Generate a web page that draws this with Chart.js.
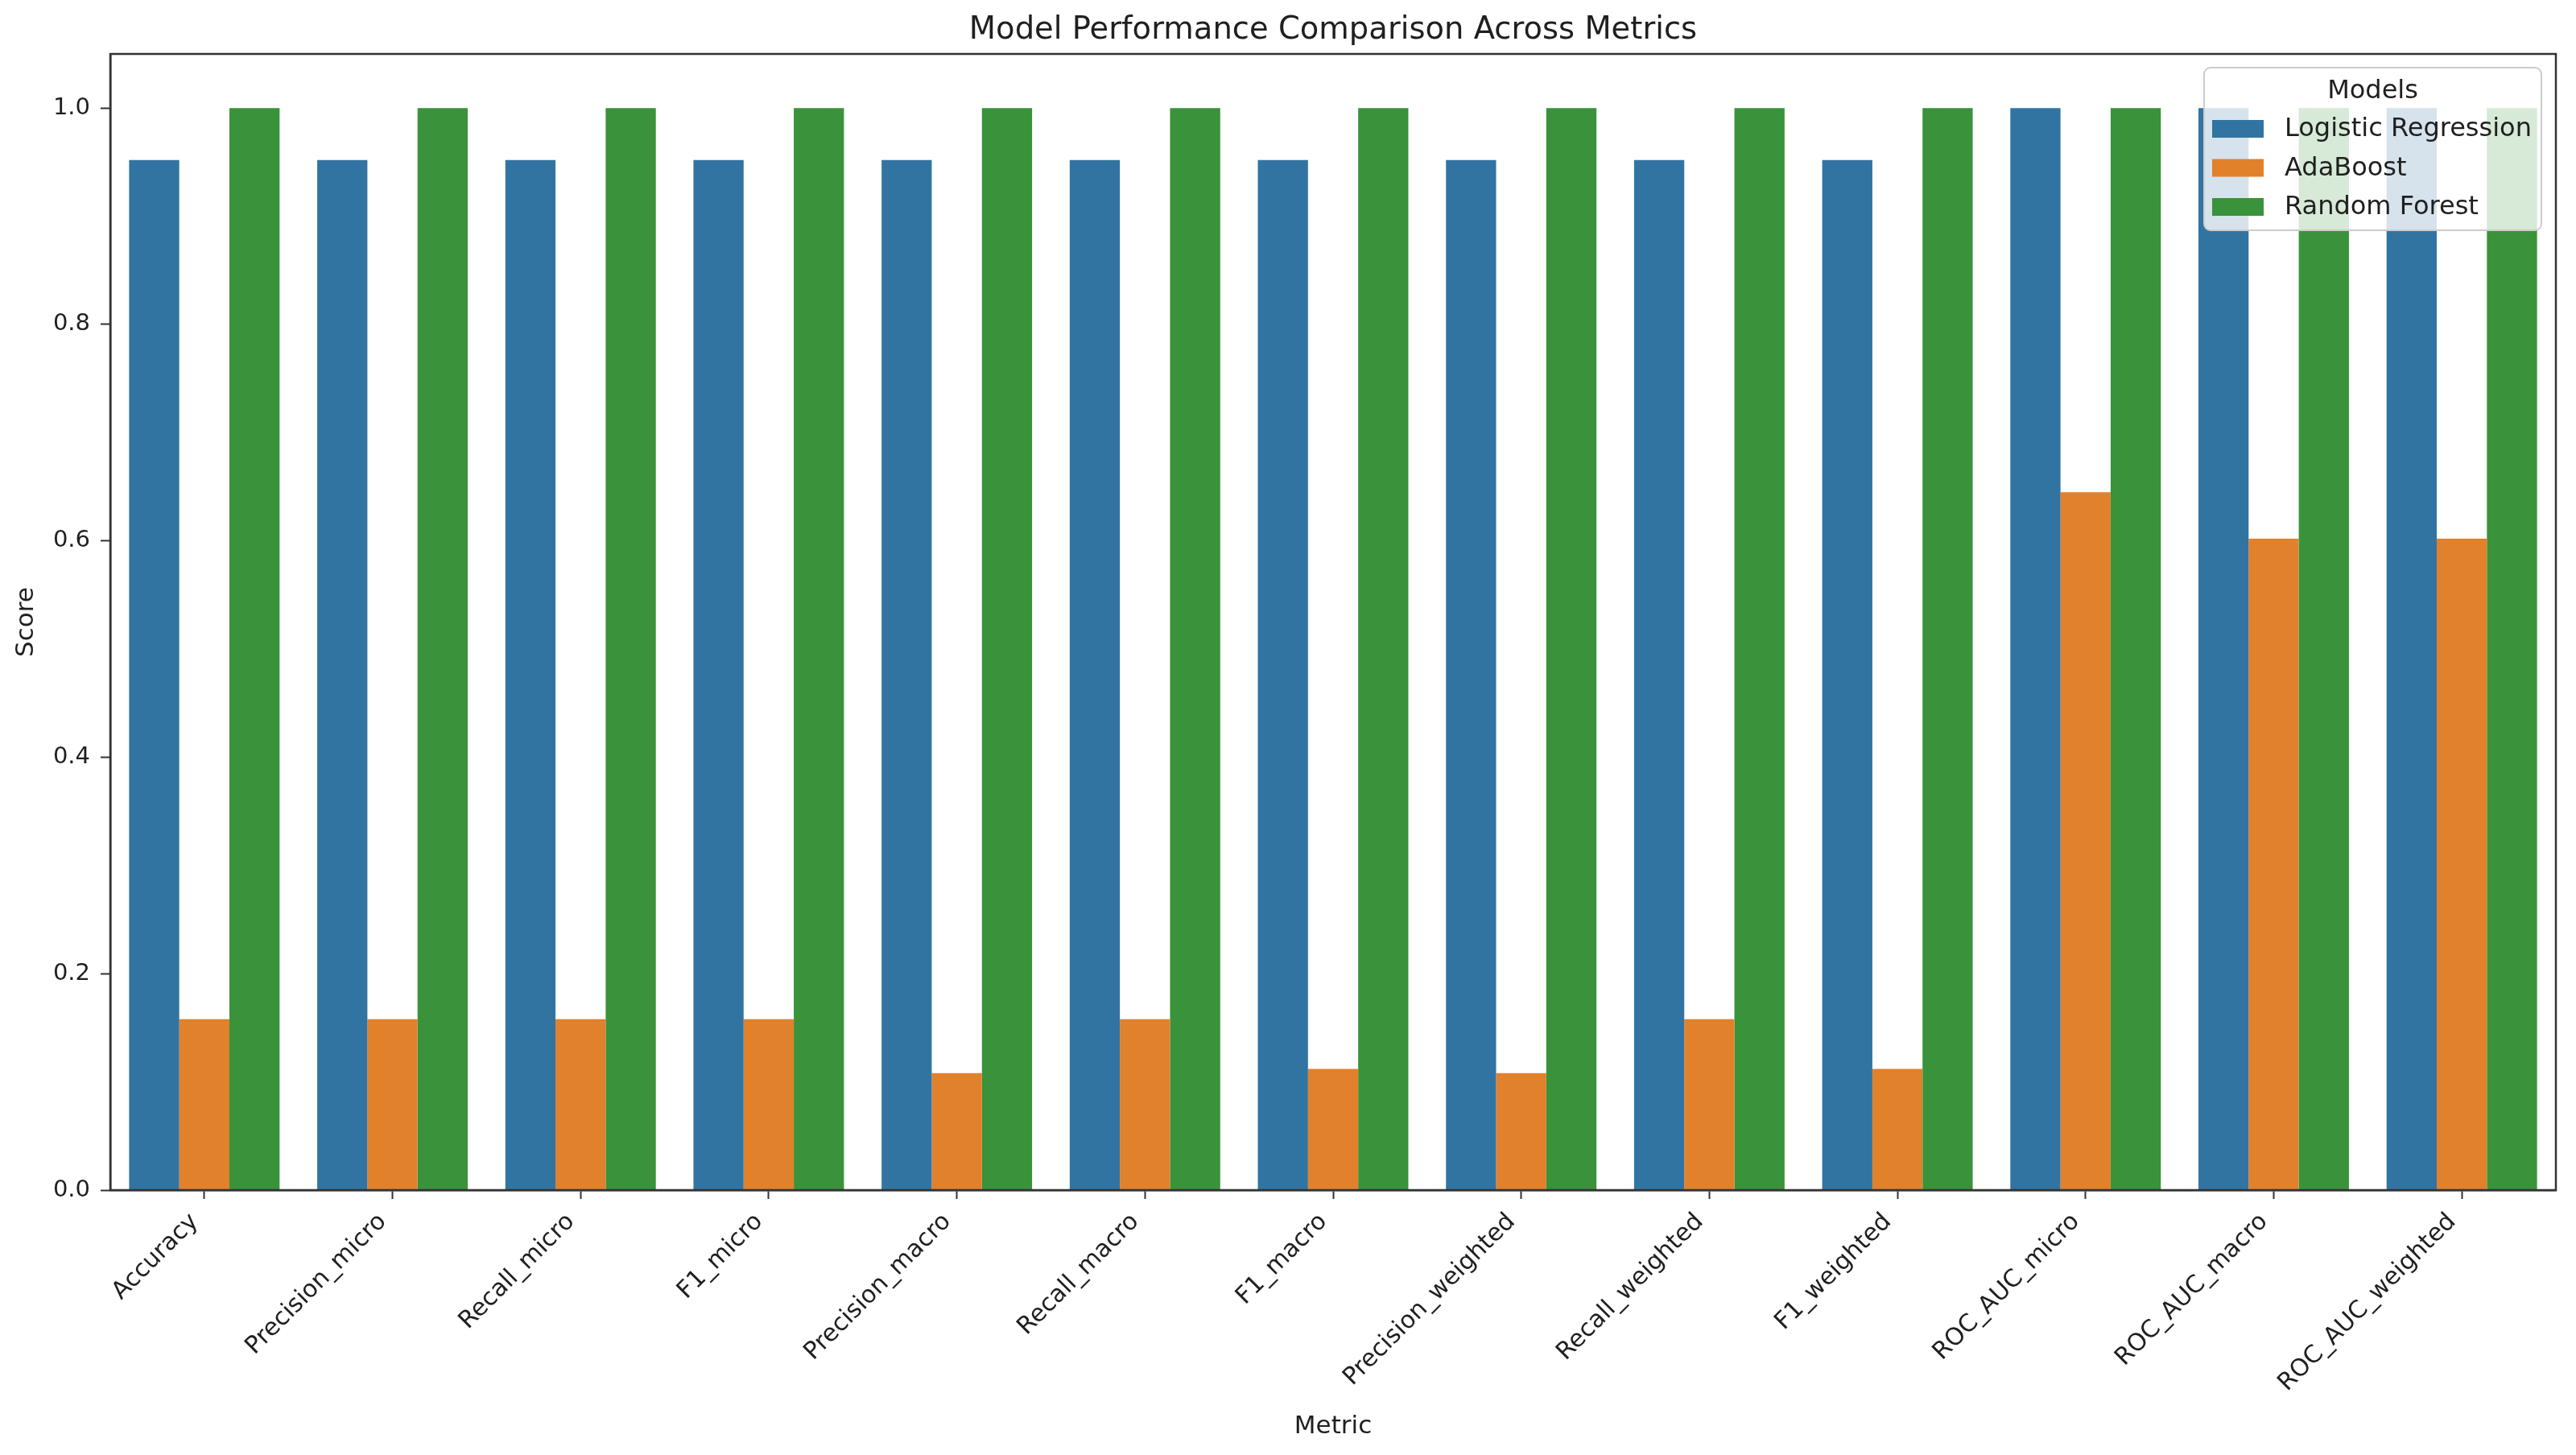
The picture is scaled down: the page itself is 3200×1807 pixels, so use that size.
<!DOCTYPE html>
<html>
<head>
<meta charset="utf-8">
<script src="https://cdn.jsdelivr.net/npm/chart.js@4.4.0/dist/chart.umd.min.js"></script>
<style>
html,body{margin:0;padding:0;background:#ffffff;overflow:hidden;}
canvas{display:block;}
</style>
</head>
<body>
<canvas id="c" width="3200" height="1807" style="width:3200px;height:1807px;"></canvas>
<script>
// ---- data ----
const categories = ['Accuracy','Precision_micro','Recall_micro','F1_micro','Precision_macro','Recall_macro','F1_macro','Precision_weighted','Recall_weighted','F1_weighted','ROC_AUC_micro','ROC_AUC_macro','ROC_AUC_weighted'];
const seriesNames = ['Logistic Regression','AdaBoost','Random Forest'];
const logisticRegression = [0.952,0.952,0.952,0.952,0.952,0.952,0.952,0.952,0.952,0.952,1.0,1.0,1.0];
const adaBoost = [0.158,0.158,0.158,0.158,0.108,0.158,0.112,0.108,0.158,0.112,0.645,0.602,0.602];
const randomForest = [1.0,1.0,1.0,1.0,1.0,1.0,1.0,1.0,1.0,1.0,1.0,1.0,1.0];
const yTickValues = [0.0,0.2,0.4,0.6,0.8,1.0];
const seriesColors = ['#3274A1','#E1812C','#3A923A'];

Chart.defaults.font.family = "'DejaVu Sans', sans-serif";
Chart.defaults.color = '#1f1f1f';

const spineColor = '#333333';

const framePlugin = {
  id: 'frame',
  afterDatasetsDraw(chart) {
    const a = chart.chartArea, ctx = chart.ctx;
    ctx.save();
    ctx.strokeStyle = spineColor;
    ctx.lineWidth = 2.5;
    ctx.strokeRect(a.left, a.top, a.right - a.left, a.bottom - a.top);
    ctx.restore();
  }
};

const legendPlugin = {
  id: 'customLegend',
  afterDraw(chart) {
    const a = chart.chartArea, ctx = chart.ctx;
    const w = 419, h = 202;
    const left = a.right - 18 - w, top = a.top + 17;
    ctx.save();
    ctx.beginPath();
    ctx.roundRect(left, top, w, h, 8);
    ctx.fillStyle = 'rgba(255,255,255,0.8)';
    ctx.fill();
    ctx.strokeStyle = '#cccccc';
    ctx.lineWidth = 2;
    ctx.stroke();
    ctx.fillStyle = '#1f1f1f';
    ctx.font = "32px 'DejaVu Sans'";
    ctx.textAlign = 'center';
    ctx.textBaseline = 'middle';
    ctx.fillText('Models', left + w / 2, top + 30);
    ctx.textAlign = 'left';
    chart.data.datasets.forEach((ds, i) => {
      const cy = top + 76 + i * 48.5;
      ctx.fillStyle = ds.backgroundColor;
      ctx.fillRect(left + 10, cy - 11, 64, 22);
      ctx.fillStyle = '#1f1f1f';
      ctx.fillText(ds.label, left + 100, cy + 1);
    });
    ctx.restore();
  }
};

const seriesData = [logisticRegression, adaBoost, randomForest];

new Chart(document.getElementById('c'), {
  type: 'bar',
  data: {
    labels: categories,
    datasets: seriesNames.map((name, i) => ({
      label: name,
      data: seriesData[i],
      backgroundColor: seriesColors[i],
      borderWidth: 0,
      categoryPercentage: 0.8,
      barPercentage: 1.0
    }))
  },
  options: {
    responsive: false,
    devicePixelRatio: 1,
    animation: false,
    layout: { padding: { left: 0, right: 25, top: 0, bottom: 0 } },
    plugins: {
      legend: { display: false },
      tooltip: { enabled: false },
      title: {
        display: true,
        fullSize: false,
        text: 'Model Performance Comparison Across Metrics',
        font: { size: 38.5, weight: 'normal' },
        color: '#1f1f1f',
        padding: { top: 15, bottom: 5.8 }
      }
    },
    scales: {
      x: {
        offset: true,
        grid: { display: true, drawOnChartArea: false, drawTicks: true, tickLength: 11, tickWidth: 2, tickColor: spineColor, offset: false },
        border: { display: true, color: spineColor, width: 2.5 },
        ticks: { autoSkip: false, minRotation: 45, maxRotation: 45, padding: 11, labelOffset: -12, font: { size: 30 }, color: '#1f1f1f' },
        title: { display: true, text: 'Metric', font: { size: 31 }, color: '#1f1f1f', padding: { top: 0, bottom: 16 } },
        afterFit(scale) { scale.height = 329; }
      },
      y: {
        min: 0,
        max: 1.05,
        grid: { display: true, drawOnChartArea: false, drawTicks: true, tickLength: 12, tickWidth: 2, tickColor: spineColor },
        border: { display: true, color: spineColor, width: 2.5 },
        afterBuildTicks(scale) { scale.ticks = yTickValues.map(v => ({ value: v })); },
        ticks: { padding: 13, font: { size: 29 }, color: '#1f1f1f', callback: v => Number(v).toFixed(1) },
        title: { display: true, text: 'Score', font: { size: 31 }, color: '#1f1f1f', padding: { top: 14, bottom: 0 } },
        afterFit(scale) { scale.width = 137; }
      }
    }
  },
  plugins: [framePlugin, legendPlugin]
});
</script>
</body>
</html>
